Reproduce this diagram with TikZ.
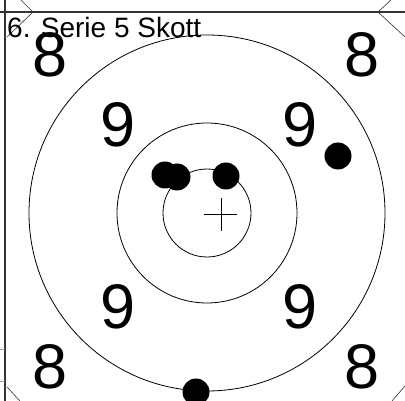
\documentclass[tikz,border=0pt]{standalone}
\usepackage{fontspec}
\setmainfont{Liberation Sans}
\usetikzlibrary{positioning}
\colorlet{frameGray}{black!80}

\begin{document}
\begin{tikzpicture}[x=1pt, y=-1pt,
    ring/.style={draw, line width=0.8pt},
    shot/.style={fill=black},
    ringnum/.style={font=\fontsize{63}{63}\selectfont, inner sep=0pt},
    edge/.style={line width=0.6pt, frameGray}]
    \useasboundingbox (0,0) rectangle (405,401);
    % frame lines
    \draw[line width=1.6pt, frameGray] (5,0) -- (5,401);
    \draw[line width=1.2pt, frameGray] (0,12) -- (405,12);
    \draw[edge, black!40] (0,349) -- (5,349);
    \draw[edge, black!40] (0,381) -- (5,381);
    \draw[edge] (21,0) -- (33,12) -- (7,37);
    \draw[edge] (391,0) -- (378,12) -- (405,37);
    \draw[edge] (7,387) -- (20,401);
    \draw[edge] (405,386) -- (392,401);
    % rings
    \draw[ring] (207,213) circle (44);
    \draw[ring] (207,213) circle (90);
    \draw[ring] (207,213) circle (178);
    \draw[line width=0.8pt] (204,214) -- (237,214);
    \draw[line width=0.8pt] (221,198) -- (221,231);
    % ring numbers
    \node[ringnum] (eightTL) at (50,55) {8};
    \node[ringnum] (eightTR) at (362,55) {8};
    \node[ringnum] (eightBL) at (50,367) {8};
    \node[ringnum] (eightBR) at (362,367) {8};
    \node[ringnum] (nineTL) at (118,125) {9};
    \node[ringnum] (nineTR) at (300,125) {9};
    \node[ringnum] (nineBL) at (118,307) {9};
    \node[ringnum] (nineBR) at (300,307) {9};
    % shots
    \fill[shot] (165,175) circle (13.5);
    \fill[shot] (177,177) circle (13.5);
    \fill[shot] (226,176) circle (13.5);
    \fill[shot] (338,156) circle (13.5);
    \fill[shot] (196,392) circle (13.5);
    % title
    \node[anchor=base west, font=\fontsize{28}{28}\selectfont, inner sep=0pt] (title) at (7,37.5) {6. Serie 5 Skott};
\end{tikzpicture}
\end{document}
